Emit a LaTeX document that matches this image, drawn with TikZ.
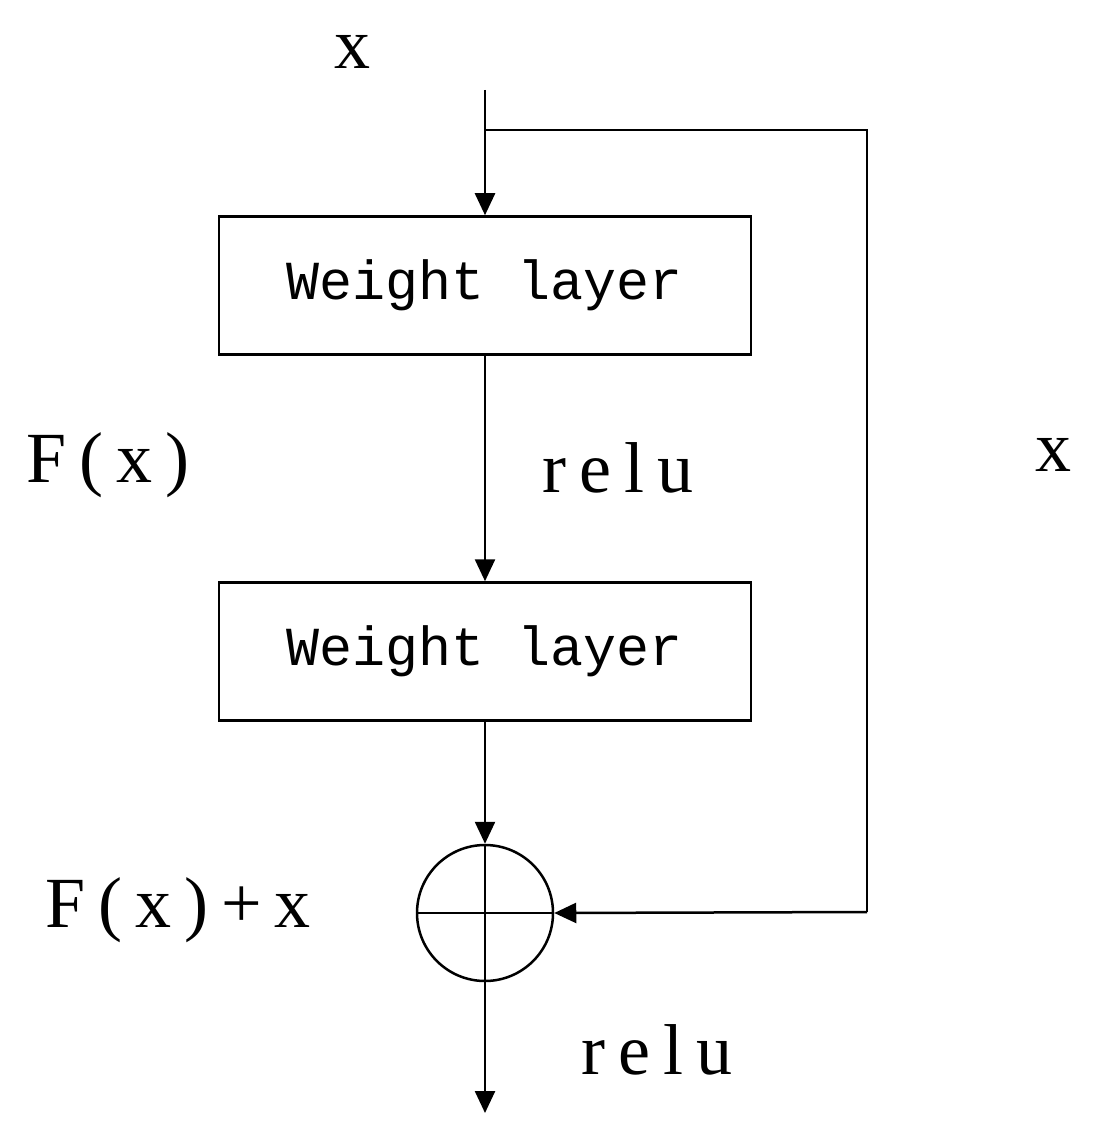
\documentclass[tikz,border=0pt]{standalone}
\usepackage{fontspec}
\setmainfont{Liberation Serif}
\newfontfamily\monof{Liberation Mono}
\newfontfamily\labf{Liberation Serif}[LetterSpace=18]
\usetikzlibrary{arrows.meta}
\begin{document}
\begin{tikzpicture}[x=1pt,y=-1pt,line width=2.5pt,
  box/.style={draw,minimum width=532pt,minimum height=138pt,font=\monof\fontsize{55}{55}\selectfont,inner sep=0},
  lab/.style={font=\labf\fontsize{72}{72}\selectfont,inner sep=0},
  arr/.style={-{Triangle[length=22pt,width=20pt]}}]
\useasboundingbox (0,0) rectangle (1095,1139);
\node[lab] (xt) at (352,52) {x};
\coordinate (s) at (485,90);
\coordinate (b) at (485,130);
\coordinate (c1) at (867,130);
\coordinate (c2) at (867,912);
\node[box] (w1) at (485,285.5) {Weight layer};
\node[box] (w2) at (485,651.5) {Weight layer};
\node[draw,circle,minimum size=136pt,inner sep=0] (p) at (485,913) {};
\draw (p.north) -- (p.south) (p.west) -- (p.east);
\coordinate (e) at (485,1113);
\draw[arr] (s) -- (w1.north);
\draw (b) -- (c1) -- (c2);
\draw[arr] (c2) -- (p.east);
\draw[arr] (w1.south) -- (w2.north);
\draw[arr] (w2.south) -- (p.north);
\draw[arr] (p.south) -- (e);
\node[lab] (r1) at (618,468) {relu};
\node[lab] (fx) at (108,465) {F(x)};
\node[lab] (xr) at (1053,455) {x};
\node[lab] (fxx) at (178,910) {F(x)+x};
\node[lab] (r2) at (657,1050) {relu};
\end{tikzpicture}
\end{document}
